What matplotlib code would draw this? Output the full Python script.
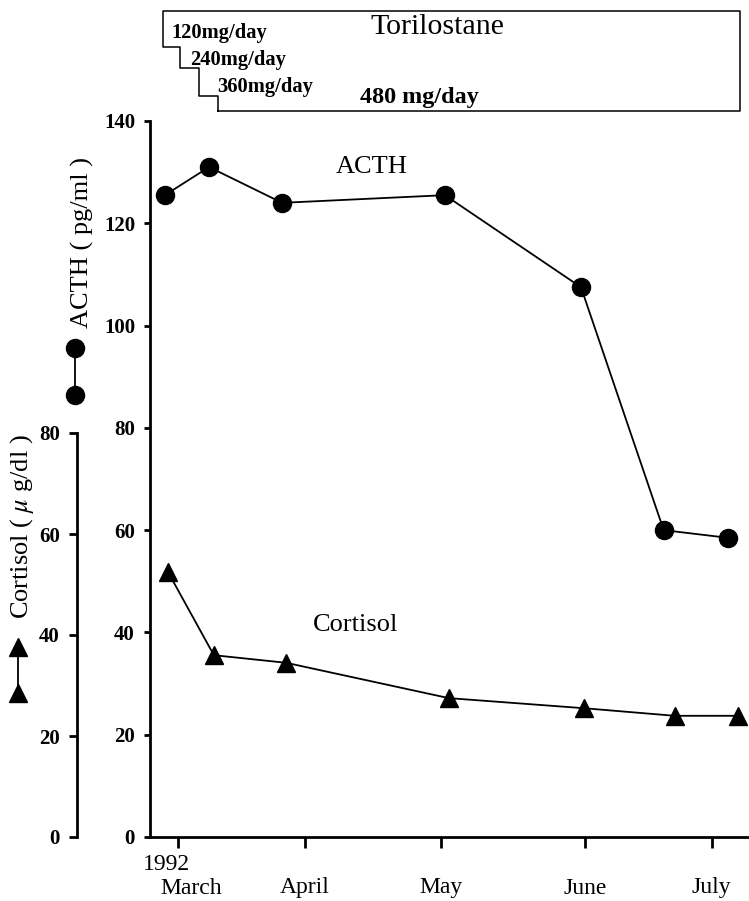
import matplotlib.pyplot as plt
from matplotlib.transforms import blended_transform_factory, ScaledTranslation

plt.rcParams['font.family'] = ['Liberation Serif', 'DejaVu Serif']
plt.rcParams['mathtext.fontset'] = 'stix'

# x values are days counted from the "March" tick
acth_days = [-3.0, 7.1, 23.8, 61.0, 92.1, 111.0, 125.7]
acth = [125.5, 131, 124, 125.5, 107.5, 60, 58.5]

cortisol_days = [-2.3, 8.2, 24.7, 61.9, 92.8, 113.5, 127.9]
cortisol = [52.5, 36, 34.5, 27.5, 25.5, 24, 24]

month_days = [0, 29, 60, 93, 122]
month_names = ['March', 'April', 'May', 'June', 'July']

# Torilostane dosing steps
dose_days = [-3.4, 0.5, 4.8, 9.1]
dose_labels = ['120mg/day', '240mg/day', '360mg/day', '480 mg/day']
dose_end_day = 128.4

W, H = 749, 901
fig = plt.figure(figsize=(W / 100, H / 100), dpi=100)


def fx(px):
    return px / W


def fy(py):
    return 1 - py / H


ax = fig.add_axes([fx(150), fy(837), 1 - fx(150), (837 - 121) / H])
ax.set_xlim(-6.4, 130.5)
ax.set_ylim(0, 140)

ax.plot(acth_days, acth, color='k', lw=1.3, marker='o', ms=13,
        zorder=3, clip_on=False)

# cortisol on its own axis, same pixel scale roughly
cax = ax.twinx()
cax.set_ylim(0, 716 / 5.05)
cax.plot(cortisol_days, cortisol, color='k', lw=1.3, marker='^', ms=13.5,
         zorder=3, clip_on=False)

for s in ['top', 'right']:
    ax.spines[s].set_visible(False)
ax.spines['left'].set_linewidth(2)
ax.spines['bottom'].set_linewidth(2)

for s in ['top', 'right', 'bottom']:
    cax.spines[s].set_visible(False)
cax.spines['left'].set_visible(True)
cax.spines['left'].set_linewidth(2)
cax.spines['left'].set_position(('outward', 52.6))
cax.spines['left'].set_bounds(0, 80)
cax.yaxis.tick_left()

ax.set_yticks(range(0, 141, 20))
cax.set_yticks(range(0, 81, 20))
ax.tick_params(axis='y', length=4.3, width=2, pad=6.5, labelsize=15)
cax.tick_params(axis='y', length=5.8, width=2, pad=6.5, labelsize=15)
for lab in ax.get_yticklabels() + cax.get_yticklabels():
    lab.set_fontweight('bold')

ax.set_xticks(month_days)
ax.set_xticklabels([''] * len(month_days))
ax.tick_params(axis='x', length=8, width=2, direction='out')

# month labels
tr = blended_transform_factory(ax.transData, fig.transFigure)
for d, name in zip(month_days, month_names):
    shift = 0.13 if name == 'March' else 0
    t = tr + ScaledTranslation(shift, 0, fig.dpi_scale_trans)
    fig.text(d, fy(888), name, transform=t, ha='center', va='center',
             fontsize=17)
fig.text(month_days[0], fy(864), '1992',
         transform=tr + ScaledTranslation(-0.115, 0, fig.dpi_scale_trans),
         ha='center', va='center', fontsize=17)

# dosing box
d0, d1, d2, d3 = dose_days
bx = [d3, d3, d2, d2, d1, d1, d0, d0, dose_end_day, dose_end_day, d3]
by = [111, 96, 96, 68, 68, 47, 47, 11, 11, 111, 111]
ax.plot(bx, [fy(v) for v in by], color='k', lw=1.1, transform=tr,
        clip_on=False)

fig.text(fx(171), fy(33), dose_labels[0], ha='left', va='center',
         fontsize=14.8, fontweight='bold')
fig.text(fx(190), fy(60), dose_labels[1], ha='left', va='center',
         fontsize=14.8, fontweight='bold')
fig.text(fx(217), fy(87), dose_labels[2], ha='left', va='center',
         fontsize=14.8, fontweight='bold')
fig.text(fx(360), fy(97), dose_labels[3], ha='left', va='center',
         fontsize=17.4, fontweight='bold')
fig.text(fx(437), fy(27), 'Torilostane', ha='center', va='center',
         fontsize=21.5)

# series names in the plot
fig.text(fx(372), fy(167), 'ACTH', ha='center', va='center', fontsize=19)
fig.text(fx(356), fy(625), 'Cortisol', ha='center', va='center', fontsize=19)

# axis titles with their marker keys
fig.text(fx(82), fy(242), 'ACTH ( pg/ml )', rotation=90, ha='center',
         va='center', fontsize=19)
fig.text(fx(22), fy(527), r'Cortisol ( $\mu$ g/dl )', rotation=90,
         ha='center', va='center', fontsize=19)

ax.plot([fx(75), fx(75)], [fy(348), fy(395)], color='k', lw=1.3,
        marker='o', ms=13, transform=fig.transFigure, clip_on=False)
ax.plot([fx(18), fx(18)], [fy(647), fy(693)], color='k', lw=1.3,
        marker='^', ms=12.5, transform=fig.transFigure, clip_on=False)

fig.savefig('out.png', dpi=100)
